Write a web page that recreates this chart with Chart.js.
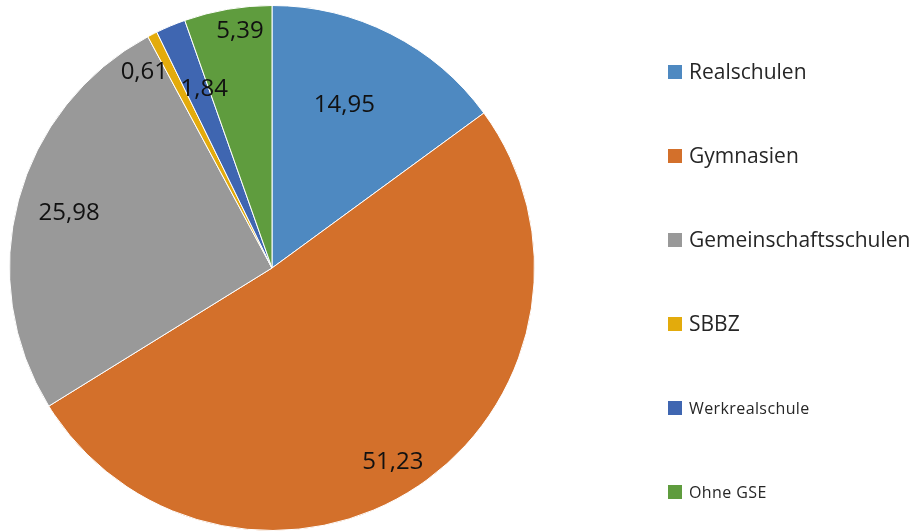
<!DOCTYPE html>
<html>
<head>
<meta charset="utf-8">
<script src="https://cdn.jsdelivr.net/npm/chart.js@4"></script>
<style>
  html, body { margin: 0; padding: 0; background: #fff; }
  #wrap { width: 916px; height: 532px; position: relative; }
</style>
</head>
<body>
<div id="wrap"><canvas id="chart"></canvas></div>
<script>
const categories = ["Realschulen", "Gymnasien", "Gemeinschaftsschulen", "SBBZ", "Werkrealschule", "Ohne GSE"];
const shares = [14.95, 51.23, 25.98, 0.61, 1.84, 5.39];
const valueLabels = ["14,95", "51,23", "25,98", "0,61", "1,84", "5,39"];

const colors = ["#4E89C1", "#D3702B", "#999999", "#E3AB0C", "#3F66B1", "#5F9C3E"];
// label placement (fraction of radius, angle nudge in degrees)
const labelDistance = [0.68, 0.87, 0.8, 0.89, 0.73, 0.91];
const labelNudge = [-3, 2, 0, -6, 2, 2];
// legend font sizes (the last two entries are smaller in the original)
const legendSizes = [21, 21, 21, 21, 16, 16];

const valueLabelPlugin = {
  id: "valueLabels",
  afterDatasetsDraw(chart) {
    const ctx = chart.ctx;
    const meta = chart.getDatasetMeta(0);
    ctx.save();
    ctx.fillStyle = "#111111";
    ctx.font = '24px "Open Sans", sans-serif';
    ctx.textAlign = "center";
    ctx.textBaseline = "middle";
    meta.data.forEach((arc, i) => {
      const p = arc.getProps(["x", "y", "startAngle", "endAngle", "outerRadius"], true);
      const mid = (p.startAngle + p.endAngle) / 2 + (labelNudge[i] * Math.PI) / 180;
      const r = p.outerRadius * labelDistance[i];
      ctx.fillText(valueLabels[i], p.x + Math.cos(mid) * r, p.y + Math.sin(mid) * r);
    });
    ctx.restore();
  },
};

const sideLegendPlugin = {
  id: "sideLegend",
  afterDraw(chart) {
    const ctx = chart.ctx;
    const x0 = 668;
    const top = 72;
    const step = 84;
    ctx.save();
    ctx.textBaseline = "middle";
    ctx.textAlign = "left";
    categories.forEach((name, i) => {
      const y = top + i * step;
      ctx.fillStyle = colors[i];
      ctx.fillRect(x0, y - 7, 14, 14);
      ctx.fillStyle = "#262626";
      ctx.font = legendSizes[i] + 'px "Open Sans", sans-serif';
      ctx.letterSpacing = legendSizes[i] < 18 ? "0.4px" : "0px";
      ctx.fillText(name, x0 + 21, y + 1);
    });
    ctx.restore();
  },
};

new Chart(document.getElementById("chart"), {
  type: "pie",
  data: {
    labels: categories,
    datasets: [
      {
        data: shares,
        backgroundColor: colors,
        borderColor: "#ffffff",
        borderWidth: 1,
      },
    ],
  },
  options: {
    responsive: true,
    maintainAspectRatio: false,
    animation: false,
    layout: {
      padding: { left: 9, right: 381, top: 5, bottom: 1 },
    },
    plugins: {
      legend: { display: false },
      tooltip: { enabled: false },
    },
  },
  plugins: [valueLabelPlugin, sideLegendPlugin],
});
</script>
</body>
</html>
